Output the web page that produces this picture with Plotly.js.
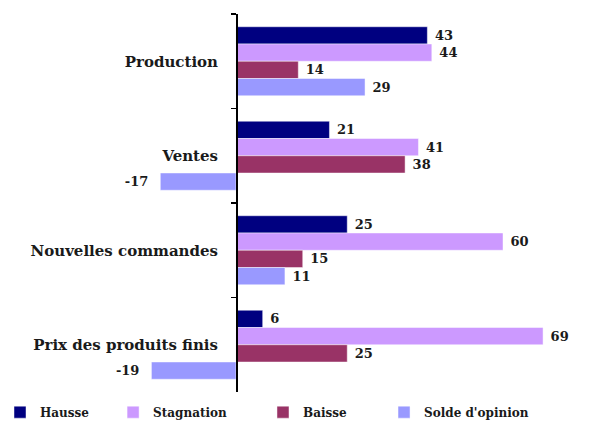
<!DOCTYPE html>
<html>
<head>
<meta charset="utf-8">
<script src="https://cdn.plot.ly/plotly-3.0.1.min.js"></script>
<style>html,body{margin:0;padding:0;background:#fff;}#chart{width:589px;height:426px;}</style>
</head>
<body>
<div id="chart"></div>
<script>
const categories = ["Production", "Ventes", "Nouvelles commandes", "Prix des produits finis"];
const seriesNames = ["Hausse", "Stagnation", "Baisse", "Solde d'opinion"];
const hausse = [43, 21, 25, 6];
const stagnation = [44, 41, 60, 69];
const baisse = [14, 38, 15, 25];
const solde = [29, -17, 11, -19];
const colors = ["#000080", "#CC99FF", "#993366", "#9999FF"];

const values = [hausse, stagnation, baisse, solde];
const serif = "'DejaVu Serif', 'Liberation Serif', serif";
const labelFont = {family: serif, size: 13, color: "#1a1a1a", weight: "bold"};
const legendIds = ["legend", "legend2", "legend3", "legend4"];
const legendX = [-0.0255, 0.192, 0.4465, 0.652];

const traces = values.map((v, i) => ({
  type: "bar",
  orientation: "h",
  name: seriesNames[i],
  legend: legendIds[i],
  y: categories,
  x: v,
  marker: {color: colors[i], line: {color: "rgba(255,255,255,0.45)", width: 1}},
  text: v.map(String),
  texttemplate: "\u00a0%{text}\u00a0\u00a0",
  textposition: "outside",
  cliponaxis: false,
  constraintext: "none",
  textfont: labelFont,
  hoverinfo: "x+y+name"
}));

const layout = {
  width: 589,
  height: 426,
  margin: {l: 5, r: 5, t: 14, b: 34, autoexpand: false},
  paper_bgcolor: "#fff",
  plot_bgcolor: "rgba(0,0,0,0)",
  barmode: "group",
  bargap: 0.27,
  bargroupgap: 0,
  showlegend: true,
  xaxis: {
    range: [-51.9, 78.2],
    visible: false,
    showgrid: false,
    zeroline: false,
    fixedrange: true
  },
  yaxis: {
    type: "category",
    autorange: "reversed",
    anchor: "free",
    position: 0.399,
    showline: true,
    linecolor: "#000",
    linewidth: 1.5,
    ticks: "outside",
    ticklen: 5,
    tickcolor: "#000",
    tickwidth: 1.5,
    tickson: "boundaries",
    ticklabelstandoff: 15,
    showgrid: false,
    zeroline: false,
    automargin: false,
    tickfont: {family: serif, size: 15, color: "#1a1a1a", weight: "bold"},
    fixedrange: true
  }
};

legendIds.forEach((id, i) => {
  layout[id] = {
    orientation: "h",
    xref: "container",
    x: legendX[i],
    xanchor: "left",
    y: -0.015,
    yanchor: "top",
    itemwidth: 30,
    bgcolor: "rgba(0,0,0,0)",
    font: {family: serif, size: 12, color: "#1a1a1a", weight: "bold"}
  };
});

Plotly.newPlot("chart", traces, layout, {displayModeBar: false, staticPlot: true});
</script>
</body>
</html>
